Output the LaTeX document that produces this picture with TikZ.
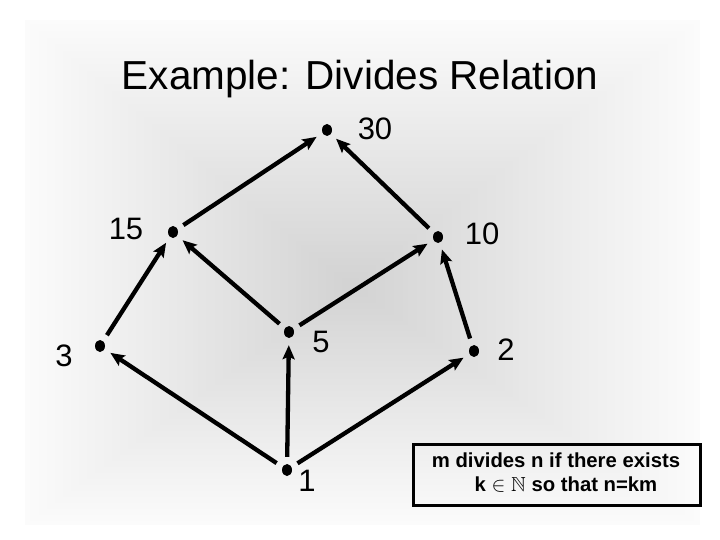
\documentclass[tikz,border=0pt]{standalone}
\usepackage{amssymb}
\usepackage{fontspec}
\setmainfont{Liberation Sans}
\usetikzlibrary{arrows.meta,shapes.geometric}
\tikzset{
  dot/.style={ellipse,fill=black,inner sep=0pt,minimum width=10pt,minimum height=12pt},
  num/.style={inner sep=0pt,font=\fontsize{31}{36}\selectfont},
  arr/.style={line width=4.3pt,-{Stealth[length=14pt,width=12pt,inset=2.5pt]},shorten >=7pt,shorten <=7pt},
  boxtext/.style={anchor=base,inner sep=0pt,font=\bfseries\fontsize{20.3}{24}\selectfont},
}
\begin{document}
\begin{tikzpicture}[x=1pt,y=-1pt]
\useasboundingbox (0,0) rectangle (720,540);
\fill[white] (0,0) rectangle (720,540);
% background rectangular gradient
\def\cx{350}\def\cy{285}
\foreach \i in {0,...,119}{
  \pgfmathsetmacro\t{\i/120}
  \pgfmathsetmacro\p{1.5+16*\t}
  \fill[black!\p!white] ({25+\t*(\cx-25)},{20+\t*(\cy-20)}) rectangle ({700-\t*(700-\cx)},{525-\t*(525-\cy)});
}
% title
\node[anchor=base,inner sep=0pt,font=\fontsize{40.5}{48}\selectfont] (title) at (360,90) {Example: Divides Relation};
% dots
\node[dot] (n30) at (327,130) {};
\node[dot] (n15) at (173,232) {};
\node[dot] (n10) at (438,237) {};
\node[dot] (n3) at (100,346) {};
\node[dot] (n5) at (289,332) {};
\node[dot] (n2) at (474,351) {};
\node[dot] (n1) at (287,470) {};
% labels
\node[num] (l30) at (375,129) {30};
\node[num] (l15) at (126,229) {15};
\node[num] (l10) at (482,234) {10};
\node[num] (l3) at (64,356) {3};
\node[num] (l5) at (321,342) {5};
\node[num] (l2) at (506,350) {2};
\node[num] (l1) at (307,481) {1};
% edges
\draw[arr] (n1) -- (n3);
\draw[arr] (n1) -- (n5);
\draw[arr] (n1) -- (n2);
\draw[arr] (n3) -- (n15);
\draw[arr] (n5) -- (n15);
\draw[arr] (n5) -- (n10);
\draw[arr] (n2) -- (n10);
\draw[arr] (n15) -- (n30);
\draw[arr] (n10) -- (n30);
% box
\node[draw,line width=3pt,minimum width=287pt,minimum height=61pt,inner sep=0pt] (box) at (557,475) {};
\node[boxtext] (t1) at (556,467) {m divides n if there exists};
\node[boxtext] (t2) at (566,491) {k $\in\mathbb{N}$ so that n=km};
\end{tikzpicture}
\end{document}
